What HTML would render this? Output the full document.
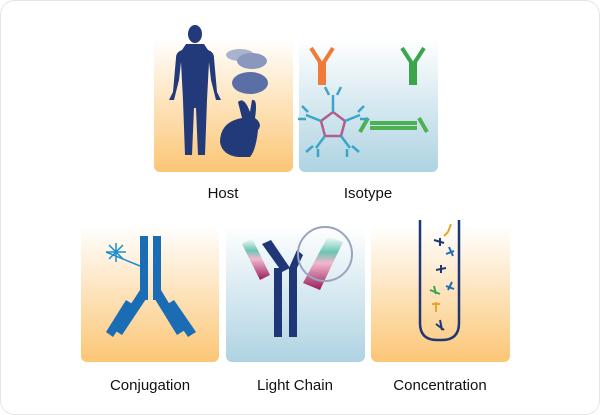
<!DOCTYPE html>
<html><head><style>
html,body{margin:0;padding:0;background:#fff}
svg{display:block}
text{font-family:"Liberation Sans",sans-serif;font-size:15px;fill:#111}
</style></head><body>
<svg width="600" height="415" viewBox="0 0 600 415">
<defs>
<linearGradient id="or" x1="0" y1="0" x2="0" y2="1"><stop offset="0" stop-color="#fff"/><stop offset="1" stop-color="#fbc675"/></linearGradient>
<linearGradient id="bl" x1="0" y1="0" x2="0" y2="1"><stop offset="0" stop-color="#fff"/><stop offset="1" stop-color="#aed3e2"/></linearGradient>
<linearGradient id="lc" x1="0" y1="0" x2="0" y2="1"><stop offset="0" stop-color="#fff"/><stop offset="0.3" stop-color="#6cc4b4"/><stop offset="0.5" stop-color="#f1b9cf"/><stop offset="1" stop-color="#9a1b5a"/></linearGradient>
</defs>
<rect x="0.5" y="0.5" width="599" height="414" rx="14" fill="#fff" stroke="#e6e6e6"/>
<rect x="154" y="38" width="139" height="134" rx="6" fill="url(#or)"/>
<rect x="299" y="38" width="139" height="134" rx="6" fill="url(#bl)"/>
<rect x="81" y="226" width="138" height="136" rx="6" fill="url(#or)"/>
<rect x="226" y="226" width="139" height="136" rx="6" fill="url(#bl)"/>
<rect x="371" y="226" width="139" height="136" rx="6" fill="url(#or)"/>
<!-- Host -->
<g fill="#22397a">
<ellipse cx="195" cy="34" rx="7" ry="9"/>
<path d="M186 44 L204 44 L208 50 Q214 52 214 58 L217 92 L221 100 L216 100 L211 80 L209 62 L207 100 L205 155 L198 155 L196 108 L194 108 L192 155 L185 155 L183 100 L181 62 L179 80 L174 100 L169 100 L173 92 L176 58 Q176 52 182 50 Z"/>
<path d="M238 157 Q222 155 220 142 Q220 122 242 118 L238 102 Q244 96 250 112 L252 100 Q258 98 255 118 Q263 124 258 130 Q256 150 250 157 Z"/>
</g>
<ellipse cx="240" cy="55" rx="14" ry="6" fill="#a9b3cf"/>
<ellipse cx="252" cy="61" rx="15" ry="8" fill="#8b98bd"/>
<ellipse cx="250" cy="83" rx="18" ry="11" fill="#5a6fa5"/>
<!-- Isotype -->
<g stroke-width="4" fill="none">
<path d="M320 85 V62 L311 48 M324 85 V62 L333 48" stroke="#f07a38"/>
<path d="M411 85 V62 L402 48 M415 85 V62 L424 48" stroke="#3aa54a"/>
<path d="M370 123 L417 123 M370 128 L417 128 M368 118 L360 132 M419 118 L427 132" stroke="#4db052"/>
</g>
<g stroke="#3aa5c7" stroke-width="2.5" fill="none">
<polygon points="333,112 345,121 341,136 325,136 321,121" stroke="#b25d8c"/>
<path d="M333 112 V95 M345 121 L360 115 M341 136 L350 148 M325 136 L316 148 M321 121 L306 115"/>
<path d="M329 95 l-4 -8 M337 95 l4 -8 M358 112 l6 -6 M360 119 l8 0 M347 149 l0 8 M352 146 l7 6 M313 146 l-7 6 M318 149 l0 8 M306 119 l-8 0 M308 112 l-6 -6"/>
</g>
<!-- Conjugation -->
<g fill="#1a6cb5">
<rect x="140" y="236" width="8" height="64"/><rect x="153" y="236" width="8" height="64"/>
<polygon points="140,290 148,296 122,335 114,330"/><polygon points="153,296 161,290 185,330 177,335"/>
<polygon points="126,300 134,305 113,337 106,332"/><polygon points="166,305 174,300 196,332 188,337"/>
</g>
<g stroke="#1a8ed0" stroke-width="1.5"><path d="M106 252 L140 266"/><path d="M116 243 L116 262 M106 252 L126 252 M109 245 L123 259 M123 245 L109 259"/></g>
<!-- Light chain -->
<g fill="#1f3777">
<polygon points="262,244 271,240 290,268 282,272"/>
<rect x="274" y="268" width="8" height="69"/>
<rect x="289" y="268" width="8" height="69"/>
<polygon points="289,268 297,268 303,255 297,250"/>
</g>
<polygon points="242,244 252,238 270,275 260,280" fill="url(#lc)"/>
<polygon points="328,236 343,242 320,290 303,283" fill="url(#lc)"/>
<circle cx="325" cy="254" r="27" fill="none" stroke="#9aa4c0" stroke-width="2"/>
<!-- Concentration -->
<path d="M420 220 V323 Q420 340 437 340 H442 Q459 340 459 323 V220" fill="none" stroke="#1f3777" stroke-width="2.5"/>
<g stroke-width="2" fill="none">
<path d="M434 240 l10 3 M440 238 l0 8" stroke="#1f3777"/>
<path d="M448 232 l3 -8 M448 232 l-4 4" stroke="#e9a42a"/>
<path d="M449 247 l4 9 M446 254 l8 -3" stroke="#1a6cb5"/>
<path d="M436 270 l10 -2 M441 265 l0 8" stroke="#1f3777"/>
<path d="M430 290 l10 4 M434 286 l2 8" stroke="#3aa54a"/>
<path d="M448 290 l4 -8 M446 286 l8 3" stroke="#1a6cb5"/>
<path d="M436 312 l0 -10 M432 304 l8 0" stroke="#e9a42a"/>
<path d="M444 330 l-8 -6 M440 320 l2 10" stroke="#1f3777"/>
</g>
<text x="223" y="198" text-anchor="middle">Host</text>
<text x="368" y="198" text-anchor="middle">Isotype</text>
<text x="150" y="390" text-anchor="middle">Conjugation</text>
<text x="295" y="390" text-anchor="middle">Light Chain</text>
<text x="440" y="390" text-anchor="middle">Concentration</text>
</svg>
</body></html>
